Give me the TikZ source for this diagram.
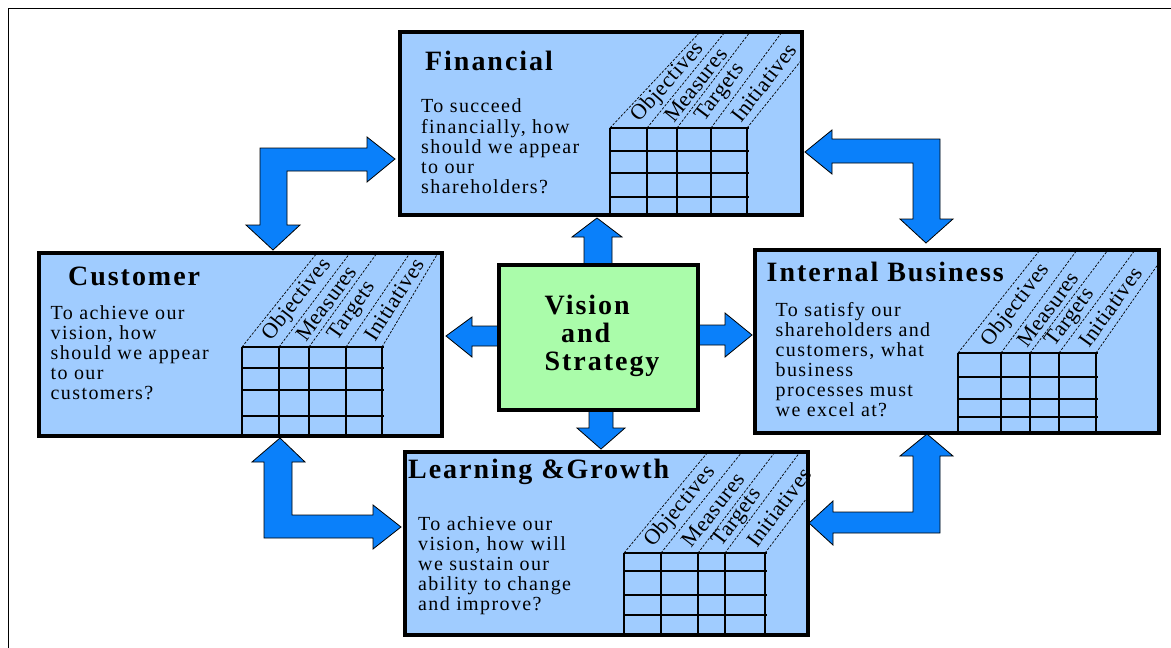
\documentclass[tikz,border=0pt]{standalone}
\usepackage{fontspec}
\setmainfont{Liberation Serif}[LetterSpace=7]
\newfontfamily\labfont{Liberation Serif}[LetterSpace=2]
\definecolor{boxblue}{RGB}{160,204,255}
\definecolor{visgreen}{RGB}{170,252,170}
\definecolor{arrowblue}{RGB}{10,128,250}

\tikzset{
  box/.style={draw=black, line width=4.5pt, fill=boxblue, inner sep=0pt, outer sep=0pt},
  visbox/.style={box, fill=visgreen},
  gridline/.style={line width=1.5pt, draw=black},
  slant/.style={line width=0.7pt, draw=black, dash pattern=on 2.5pt off 1.5pt},
  collabel/.style={anchor=west, inner sep=0.5pt, font=\labfont\fontsize{22}{22}\selectfont},
  titletext/.style={anchor=base west, inner sep=0pt, font=\fontsize{28}{28}\selectfont\bfseries},
  bodytext/.style={anchor=north west, inner sep=0pt, align=left, font=\fontsize{20}{20}\selectfont},
  blockarrow/.style={fill=arrowblue, draw=black, line width=0.8pt, line join=miter},
  frame/.style={line width=1.5pt, draw=black}
}

\newcommand\labh{8}
% #1 box name, #2 bottom xs, #3 top xs (at y=#7), #4 grid top y, #5 row ys, #6 bottom y, #7 ref y, #8 right end of rows
\newcommand\bscgrid[8]{%
  \def\xbs{{#2}}\def\xts{{#3}}%
  \pgfmathsetmacro\xleft{\xbs[0]}%
  \begin{scope}
    \clip ([shift={(2.25,2.25)}]#1.north west) rectangle ([shift={(-2.25,-2.25)}]#1.south east);
    \foreach \i in {0,...,4}{%
      \pgfmathsetmacro\xa{\xbs[\i]}%
      \pgfmathsetmacro\xt{\xts[\i]}%
      \draw[slant] (\xa,#4) -- ({\xa+1.6*(\xt-\xa)},{#4+1.6*(#7-#4)});
    }
  \end{scope}
  \foreach \x in {#2} \draw[gridline] (\x,#4) -- (\x,#6);
  \foreach \y in {#4,#5} \draw[gridline] (\xleft,\y) -- (#8,\y);
  \foreach \i/\lab in {0/Objectives,1/Measures,2/Targets,3/Initiatives}{%
    \pgfmathsetmacro\ba{\xbs[\i]}\pgfmathsetmacro\bb{\xbs[\i+1]}%
    \pgfmathsetmacro\ta{\xts[\i]}\pgfmathsetmacro\tb{\xts[\i+1]}%
    \pgfmathsetmacro\bx{(\ba+\bb)/2}\pgfmathsetmacro\tx{(\ta+\tb)/2}%
    \pgfmathsetmacro\rise{#4-#7}%
    \pgfmathsetmacro\ang{atan2(\rise,\tx-\bx)}%
    \pgfmathsetmacro\px{\bx+\labh*(\tx-\bx)/\rise}%
    \pgfmathsetmacro\py{#4-\labh}%
    \node[collabel, rotate=\ang] (#1-\lab) at (\px,\py) {\lab};
  }%
}

\begin{document}
\begin{tikzpicture}[x=1pt, y=-1pt]
\useasboundingbox (0,0) rectangle (1171,648);
\fill[white] (0,0) rectangle (1171,648);
\draw[frame] (8.5,648) -- (8.5,8.5) -- (1171,8.5);

% block arrows (drawn first, so boxes cover their ends)
\draw[blockarrow] (395,159) -- (367,137) -- (367,148) -- (260,148) -- (260,225) -- (246,225) -- (273,250) -- (300,225) -- (287,225) -- (287,171) -- (367,171) -- (367,182) -- cycle;
\draw[blockarrow] (805,152) -- (832,130) -- (832,139) -- (940,139) -- (940,219) -- (953,219) -- (926,243) -- (900,219) -- (913,219) -- (913,163) -- (832,163) -- (832,174) -- cycle;
\draw[blockarrow] (280,438) -- (305,462) -- (292,462) -- (292,515) -- (373,515) -- (373,505) -- (401,527) -- (373,549) -- (373,538) -- (264,538) -- (264,462) -- (252,462) -- cycle;
\draw[blockarrow] (927,434) -- (953,456) -- (940,456) -- (940,533) -- (833,533) -- (833,545) -- (809,523) -- (833,501) -- (833,512) -- (913,512) -- (913,456) -- (900,456) -- cycle;
\draw[blockarrow] (584,266) -- (584,237) -- (572,237) -- (597,218) -- (622,237) -- (612,237) -- (612,266) -- cycle;
\draw[blockarrow] (500,326) -- (472,326) -- (472,317) -- (446,336) -- (472,357) -- (472,346) -- (500,346) -- cycle;
\draw[blockarrow] (697,325) -- (725,325) -- (725,313) -- (752,335) -- (725,357) -- (725,345) -- (697,345) -- cycle;
\draw[blockarrow] (589,409) -- (589,428) -- (577,428) -- (601,449) -- (625,428) -- (613,428) -- (613,409) -- cycle;

% boxes
\node[box, minimum width=402pt, minimum height=183pt] (fin) at (601,123.5) {};
\node[box, minimum width=403pt, minimum height=183pt] (cus) at (240.5,344.5) {};
\node[box, minimum width=404pt, minimum height=183pt] (int) at (957,341.5) {};
\node[box, minimum width=403pt, minimum height=183pt] (lrn) at (606.5,543.5) {};
\node[visbox, minimum width=199pt, minimum height=145pt] (vis) at (598.5,337.5) {};

% grids
\bscgrid{fin}{610,647,677,711,747}{700,725,750,782,824}{128}{151,173,197}{215}{32}{749}
\bscgrid{cus}{242,279,309,346,382}{317,350,377,410,438}{347}{368,390,416}{436}{253}{384}
\bscgrid{int}{958,1001,1030,1059,1096}{1040,1077,1108,1135,1168}{353}{377,399,417}{433}{250}{1098}
\bscgrid{lrn}{624,661,698,725,765}{708,742,775,800,842}{553}{571,595,615}{635}{452}{767}

% titles
\node[titletext] (fin-title) at (425,70) {Financial};
\node[titletext] (cus-title) at (68,285) {Customer};
\node[titletext] (int-title) at (766.5,281.5) {Internal Business};
\node[titletext] (lrn-title) at (408,478.3) {Learning \&Growth};

% body texts
\node[bodytext] (fin-body) at (421,98.3) {\strut To succeed\\financially, how\\should we appear\\to our\\shareholders?};
\node[bodytext] (cus-body) at (50.5,305) {\strut To achieve our\\vision, how\\should we appear\\to our\\customers?};
\node[bodytext] (int-body) at (775.5,302) {\strut To satisfy our\\shareholders and\\customers, what\\business\\processes must\\we excel at?};
\node[bodytext] (lrn-body) at (418,516.7) {\strut To achieve our\\vision, how will\\we sustain our\\ability to change\\and improve?};

% vision text
\node[anchor=north west, inner sep=0pt, align=left, font=\fontsize{28}{27.7}\selectfont\bfseries] (vis-text) at (544.5,294.6) {\strut Vision\\\hspace*{16.5pt}and\\Strategy};
\end{tikzpicture}
\end{document}
